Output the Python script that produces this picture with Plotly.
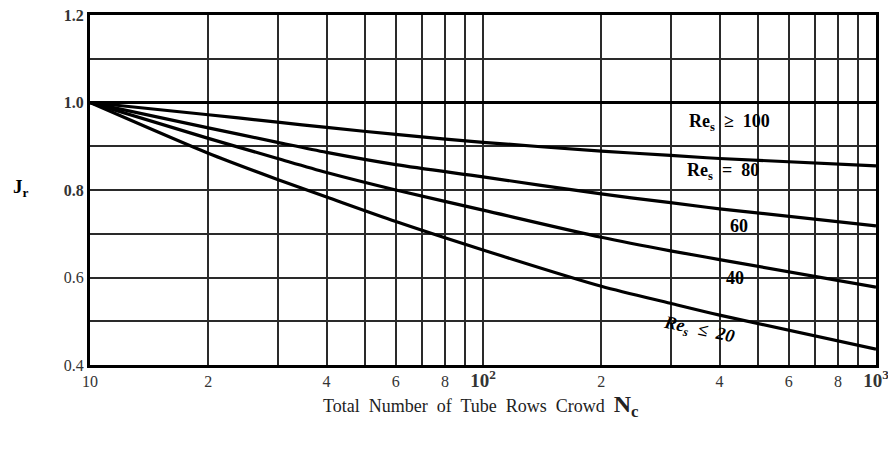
import math
import plotly.graph_objects as go

# Data
n_rows = [10, 20, 30, 40, 60, 100, 200, 300, 400, 1000]
jr_re100 = [1.0, 1.0, 1.0, 1.0, 1.0, 1.0, 1.0, 1.0, 1.0, 1.0]
jr_re80 = [1.0, 0.972, 0.955, 0.943, 0.927, 0.909, 0.889, 0.879, 0.872, 0.855]
jr_re60 = [1.0, 0.942, 0.909, 0.886, 0.858, 0.830, 0.791, 0.771, 0.757, 0.718]
jr_re40 = [1.0, 0.918, 0.872, 0.840, 0.800, 0.754, 0.692, 0.661, 0.641, 0.578]
jr_re20 = [1.0, 0.884, 0.824, 0.784, 0.728, 0.663, 0.580, 0.541, 0.514, 0.436]

x_grid = [10, 20, 30, 40, 50, 60, 70, 80, 90, 100, 200, 300, 400, 500, 600, 700, 800, 900, 1000]
x_labels = {10: "10", 20: "2", 40: "4", 60: "6", 80: "8",
            100: "<b><span style='font-size:19px'>10<sup>2</sup></span></b>",
            200: "2", 400: "4", 600: "6", 800: "8",
            1000: "<b><span style='font-size:19px'>10<sup>3</sup></span></b>"}
y_grid = [0.4, 0.5, 0.6, 0.7, 0.8, 0.9, 1.0, 1.1, 1.2]
y_labels = {0.4: "0.4", 0.6: "0.6", 0.8: "<b>0.8</b>", 1.0: "<b>1.0</b>", 1.2: "<b>1.2</b>"}

curve_labels = [
    ("Re<sub>s</sub>  ≥  100", 425, 0.955, 0),
    ("Re<sub>s</sub>  =  80", 408, 0.843, 0),
    ("60", 448, 0.718, 0),
    ("40", 438, 0.598, 0),
    ("<i>Re<sub>s</sub>  ≤  20</i>", 355, 0.480, 12),
]

fig = go.Figure()
for ys in [jr_re100, jr_re80, jr_re60, jr_re40, jr_re20]:
    fig.add_trace(go.Scatter(x=n_rows, y=ys, mode="lines",
                             line=dict(color="black", width=3.2, shape="spline", smoothing=0.8),
                             showlegend=False, hoverinfo="skip"))

serif = "Liberation Serif, Times New Roman, serif"
fig.update_layout(
    width=888, height=443,
    margin=dict(l=82, r=20, t=7, b=86),
    paper_bgcolor="white", plot_bgcolor="white",
    font=dict(family=serif, color="#222"),
    xaxis=dict(type="log", range=[1, 3], tickvals=x_grid,
               ticktext=[x_labels.get(v, "") for v in x_grid],
               showgrid=True, gridcolor="#2a2a2a", gridwidth=1.6,
               showline=True, linecolor="black", linewidth=3, mirror=True,
               automargin=False, ticklabeloverflow="allow",
               ticks="", tickfont=dict(size=16, family=serif, color="#333"), zeroline=False),
    yaxis=dict(range=[0.4, 1.2], tickvals=y_grid,
               ticktext=[y_labels.get(round(v, 1), "") for v in y_grid],
               showgrid=True, gridcolor="#2a2a2a", gridwidth=1.6,
               showline=True, linecolor="black", linewidth=3, mirror=True,
               automargin=False, ticklabeloverflow="allow",
               ticks="", tickfont=dict(size=16, family=serif, color="#333"), zeroline=False),
)

for text, x, y, ang in curve_labels:
    fig.add_annotation(x=math.log10(x), y=y, text=f"<b>{text}</b>", showarrow=False,
                       textangle=ang, font=dict(size=18, family=serif, color="black"))

fig.add_annotation(xref="paper", yref="paper", x=-0.1, y=0.505, text="<b>J<sub>r</sub></b>",
                   showarrow=False, font=dict(size=19, family=serif, color="black"))
fig.add_annotation(xref="paper", yref="paper", x=0.497, y=-0.117,
                   text="Total  Number  of  Tube  Rows  Crowd  <b><span style='font-size:24px'>N<sub>c</sub></span></b>",
                   showarrow=False, xanchor="center", yanchor="middle",
                   font=dict(size=18, family=serif, color="#222"))

fig.write_html("out.html")
